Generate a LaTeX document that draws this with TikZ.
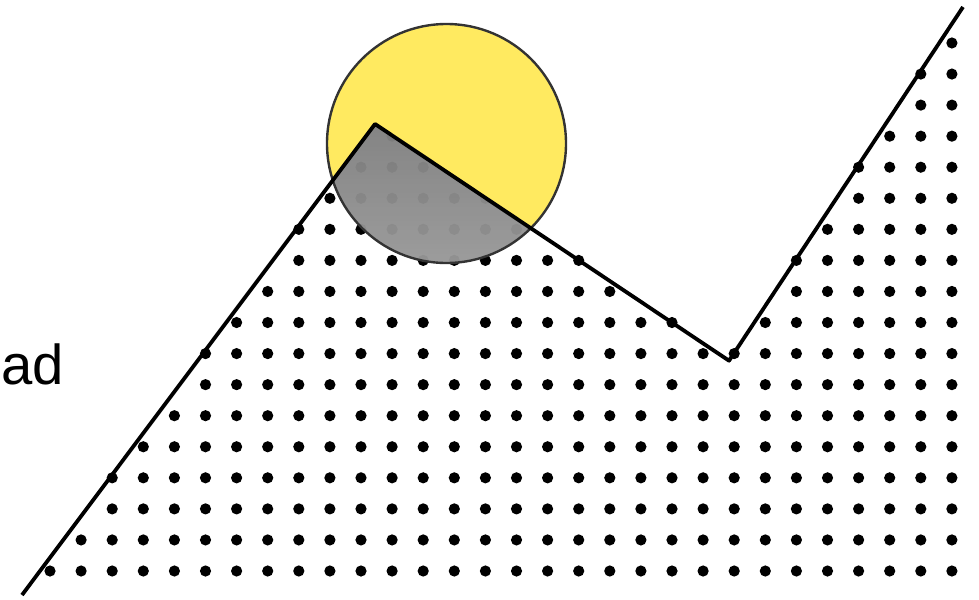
\documentclass[tikz,border=0pt]{standalone}
\usepackage{fontspec}
\setmainfont{Liberation Sans}
\begin{document}
\begin{tikzpicture}[x=0.025cm, y=-0.025cm, line join=round]
  \definecolor{sun}{HTML}{FFEA60}
  \definecolor{shade}{HTML}{808080}
  \definecolor{rim}{HTML}{333333}
  \tikzset{
    dot/.style={fill=black},
    ridge/.style={draw=black, line width=2.7pt},
  }
  \path[use as bounding box] (0,0) rectangle (979,599);
  \fill[white] (0,0) rectangle (979,599);
  % Corners of the ridge line.
  \coordinate (foot) at (22,595);
  \coordinate (peak) at (375,124);
  \coordinate (dip) at (729,360.7);
  \coordinate (top) at (963,7);
  % Dot grid, only under the ridge.
  \foreach \i in {0,...,29} {
    \foreach \j in {0,...,17} {
      \pgfmathsetmacro\dx{50+31.1*\i}
      \pgfmathsetmacro\dy{571-31.06*\j}
      \pgfmathsetmacro\ly{\dx<=375 ? 595+(\dx-22)*(-471/353) :
        (\dx<=729 ? 124+(\dx-375)*(236.7/354) : 360.7+(\dx-729)*(-353.7/234))}
      \pgfmathtruncatemacro\under{\dy>\ly-2 ? 1 : 0}
      \ifnum\under=1
        \fill[dot] (\dx,\dy) circle (5.6);
      \fi
    }
  }
  % The sun: yellow above the ridge, grey where it sinks below.
  \begin{scope}
    \clip (446.5,143.5) circle (119.5);
    \fill[sun] (0,0) -- (0,595) -- (foot) -- (peak) -- (dip) -- (top) -- (979,0) -- cycle;
    \fill[shade, opacity=.8] (foot) -- (peak) -- (dip) -- (top) -- (979,599) -- (0,599) -- cycle;
  \end{scope}
  \draw[rim, line width=1.7pt] (446.5,143.5) circle (119.5);
  \draw[ridge] (foot) -- (peak) -- (dip) -- (top);
  \node[anchor=base west, inner sep=0pt, font=\fontsize{40}{48}\selectfont] (word) at (1,384) {ad};
\end{tikzpicture}
\end{document}
